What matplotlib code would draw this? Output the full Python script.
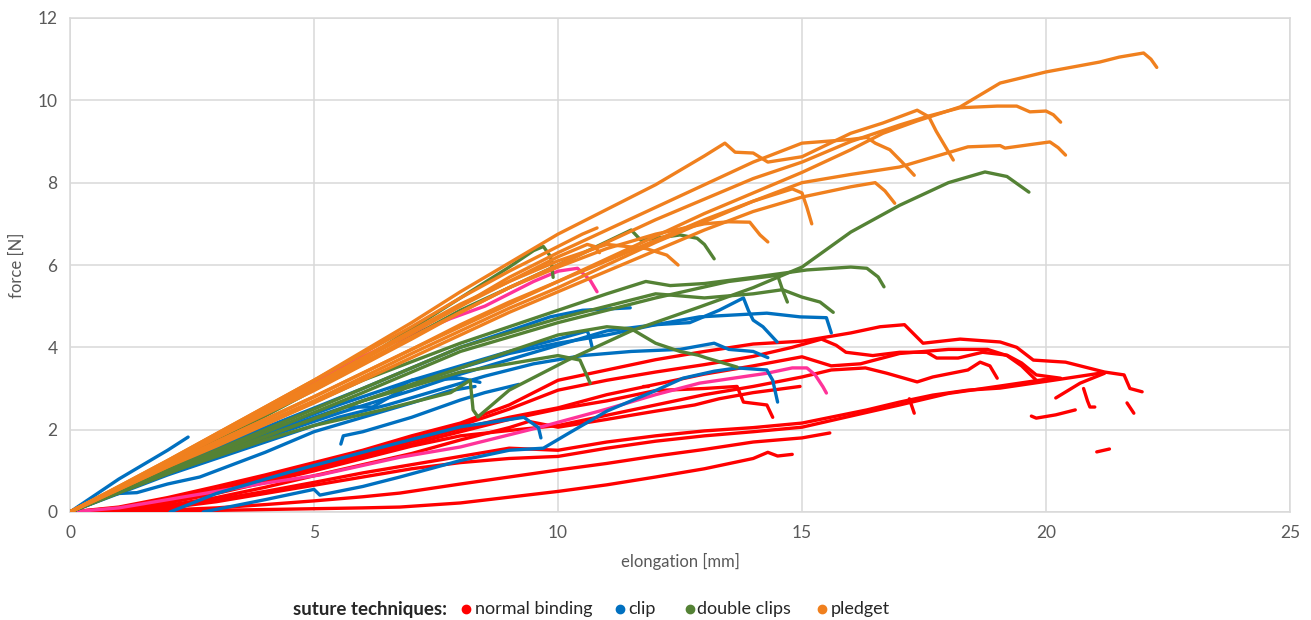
import matplotlib
matplotlib.use("Agg")
import matplotlib.pyplot as plt
from matplotlib.lines import Line2D

plt.rcParams['font.family'] = ['Lato', 'DejaVu Sans']

# Force-elongation traces (elongation in mm, force in N), one list of points per specimen
normal_binding = [
    [(0, 0), (1, 0.12), (2, 0.35), (3, 0.62), (4, 0.9), (5, 1.2), (6, 1.5), (7, 1.85), (8, 2.16), (9, 2.6),
     (10, 3.2), (11, 3.45), (12, 3.7), (13, 3.9), (14, 4.08), (15, 4.15), (16, 4.35), (16.6, 4.5), (17.1, 4.55),
     (17.48, 4.1), (18.24, 4.2), (19.06, 4.13), (19.4, 4.0), (19.74, 3.69), (20.4, 3.64), (20.8, 3.52),
     (21.2, 3.4), (21.6, 3.33), (21.72, 3.0), (21.97, 2.92)],
    [(0, 0), (1, 0.1), (2, 0.3), (3, 0.55), (4, 0.85), (5, 1.15), (6, 1.45), (7, 1.78), (8, 2.1), (9, 2.5),
     (10, 2.96), (11, 3.2), (12, 3.4), (13, 3.58), (14, 3.78), (14.8, 4.0), (15.4, 4.2), (15.7, 4.05),
     (15.9, 3.88), (16.45, 3.8), (17, 3.88), (17.56, 3.88), (17.76, 3.74), (18.2, 3.74), (18.7, 3.88),
     (19.2, 3.81), (19.5, 3.62), (19.8, 3.33), (20.3, 3.25)],
    [(0, 0), (1, 0.08), (2, 0.28), (3, 0.52), (4, 0.8), (5, 1.1), (6, 1.4), (7, 1.72), (8, 2.02), (9, 2.3),
     (10, 2.53), (11, 2.85), (12, 3.1), (13, 3.35), (14, 3.55), (15, 3.77), (15.6, 3.55), (16.2, 3.6),
     (17, 3.85), (18, 3.95), (18.8, 3.95), (19.2, 3.8), (19.5, 3.55), (19.8, 3.2)],
    [(0, 0), (1, 0.07), (2, 0.22), (3, 0.45), (4, 0.72), (5, 1.0), (6, 1.3), (7, 1.6), (8, 1.85), (9, 1.98),
     (10, 2.1), (11, 2.35), (12, 2.6), (13, 2.85), (14, 3.05), (15, 3.28), (15.6, 3.45), (16.3, 3.5),
     (16.74, 3.37), (17.36, 3.16), (17.68, 3.28), (18.4, 3.45), (18.65, 3.64), (18.85, 3.55), (18.95, 3.35),
     (19.0, 3.25)],
    [(0, 0), (1, 0.08), (2, 0.25), (3, 0.5), (4, 0.78), (5, 1.05), (6, 1.35), (7, 1.65), (8, 1.95), (9, 2.25),
     (10, 2.5), (11, 2.7), (12, 2.95), (13, 3.0), (13.67, 3.05), (13.8, 2.67), (14.28, 2.6), (14.4, 2.3)],
    [(0, 0), (1, 0.04), (2, 0.14), (3, 0.3), (4, 0.5), (5, 0.72), (6, 0.95), (7, 1.15), (8, 1.35), (9, 1.55),
     (10, 1.5), (11, 1.7), (12, 1.85), (13, 1.97), (14, 2.05), (15, 2.16), (16.33, 2.48), (17, 2.67),
     (17.68, 2.84), (18.4, 2.96), (19.06, 3.01), (20.15, 3.2), (21.1, 3.37)],
    [(0, 0), (1, 0.03), (2, 0.1), (3, 0.25), (4, 0.45), (5, 0.65), (6, 0.85), (7, 1.05), (8, 1.2), (9, 1.3),
     (10, 1.35), (11, 1.55), (12, 1.72), (13, 1.85), (14, 1.95), (15, 2.06), (16.33, 2.42), (17, 2.6),
     (18, 2.88), (19, 3.05), (20.2, 3.26)],
    [(0, 0), (1, 0.02), (2, 0.05), (3, 0.1), (4, 0.18), (5, 0.27), (6, 0.37), (6.76, 0.46), (8, 0.68),
     (9, 0.85), (10, 1.02), (11, 1.18), (12, 1.36), (13, 1.52), (14, 1.7), (15, 1.8), (15.57, 1.92)],
    [(0, 0), (2, 0.02), (3, 0.04), (4, 0.06), (5, 0.08), (6, 0.1), (6.76, 0.12), (8, 0.22), (9, 0.36),
     (10, 0.5), (11, 0.66), (12, 0.85), (13, 1.05), (14, 1.3), (14.3, 1.45), (14.5, 1.36), (14.8, 1.4)],
    [(0, 0), (1, 0.05), (2, 0.16), (3, 0.35), (4, 0.6), (5, 0.88), (6, 1.15), (7, 1.42), (8, 1.75),
     (9, 2.05), (9.4, 2.2), (10, 2.06), (11, 2.25), (12, 2.45), (12.8, 2.6), (13.3, 2.75), (14, 2.9),
     (14.96, 3.05)],
    [(19.7, 2.33), (19.8, 2.28), (20.2, 2.36), (20.6, 2.48)],
    [(21.04, 1.46), (21.3, 1.53)],
    [(20.77, 3.0), (20.85, 2.7), (20.9, 2.55), (21.0, 2.55)],
    [(21.66, 2.65), (21.8, 2.4)],
    [(20.2, 2.77), (20.7, 3.13), (21.2, 3.37)],
    [(17.2, 2.75), (17.3, 2.4)],
    [(11.75, 3.07), (11.85, 3.07)],
]

clip = [
    [(0, 0), (0.5, 0.4), (1, 0.8), (1.5, 1.15), (2, 1.5), (2.42, 1.82)],
    [(2.05, 0), (3, 0.45), (4.5, 0.97), (6.15, 1.5), (8, 2.07), (9.3, 2.3), (9.6, 2.05), (9.65, 1.8)],
    [(2.73, 0), (4, 0.3), (5, 0.55), (5.12, 0.41), (6, 0.62), (6.76, 0.85), (8, 1.25), (9, 1.5),
     (9.7, 1.55), (10.2, 1.9), (11, 2.45), (12, 2.95), (12.56, 3.25), (13.2, 3.42), (13.67, 3.5),
     (14.28, 3.45), (14.4, 3.2), (14.5, 2.67)],
    [(0, 0), (0.5, 0.3), (1, 0.45), (1.37, 0.47), (2, 0.68), (2.66, 0.85), (4, 1.45), (5, 1.95), (6, 2.3),
     (7, 2.65), (7.8, 2.95), (8.3, 3.05)],
    [(0, 0), (2, 1.0), (4, 1.9), (5.5, 2.5), (6.5, 2.9), (7, 3.2), (7.5, 3.3), (8, 3.5), (9, 3.85),
     (10, 4.1), (11, 4.3), (12, 4.55), (12.9, 4.74), (14.28, 4.83), (14.96, 4.74), (15.5, 4.72), (15.6, 4.35)],
    [(0, 0), (2, 0.95), (4, 1.8), (5.5, 2.4), (7, 2.95), (8, 3.35), (9, 3.7), (10, 4.05), (11, 4.4),
     (12, 4.55), (12.7, 4.6), (13.3, 4.9), (13.8, 5.2), (13.9, 4.9), (14.0, 4.66), (14.2, 4.5), (14.49, 4.13)],
    [(0, 0), (2, 1.05), (4, 2.05), (6, 3.0), (7, 3.5), (8, 4.0), (9, 4.4), (9.84, 4.74), (10.5, 4.9),
     (11.48, 4.96)],
    [(0, 0), (2, 1.0), (4, 1.95), (5.5, 2.6), (7, 3.2), (8, 3.55), (9, 3.9), (10, 4.2), (10.6, 4.4),
     (10.66, 4.2), (10.7, 4.0)],
    [(0, 0), (2, 0.9), (4, 1.7), (5.5, 2.3), (6.5, 2.6), (7.5, 2.95), (8.5, 3.3), (9.5, 3.6), (10.5, 3.8),
     (11.5, 3.9), (12.5, 3.95), (13.2, 4.1), (13.5, 3.95), (14.0, 3.9), (14.3, 3.75)],
    [(5.55, 1.65), (5.6, 1.85), (6, 1.95), (7, 2.3), (8, 2.72), (8.5, 2.9), (9.2, 3.1)],
    [(5.7, 2.55), (6.2, 2.55), (7.0, 3.1), (7.3, 3.2), (8.0, 3.25), (8.4, 3.15)],
]

double_clips = [
    [(0, 0), (1, 0.5), (2, 0.95), (3, 1.35), (4, 1.75), (5, 2.1), (6.4, 2.48), (7.8, 2.9), (8.2, 3.2),
     (8.26, 2.48), (8.36, 2.31), (9, 2.96), (10.2, 3.69), (11.5, 4.4), (12.9, 4.98), (14, 5.45), (15, 5.95),
     (16, 6.8), (17, 7.45), (18, 8.0), (18.75, 8.26), (19.2, 8.15), (19.65, 7.77)],
    [(0, 0), (2, 1.1), (4, 2.35), (6, 3.7), (8, 5.2), (9, 5.95), (9.5, 6.35), (9.7, 6.45), (9.85, 6.2),
     (9.9, 5.7)],
    [(0, 0), (3, 1.7), (6, 3.6), (8, 4.9), (10, 6.0), (11.5, 6.85), (11.7, 6.6), (12.5, 6.73),
     (12.85, 6.65), (13.0, 6.5), (13.2, 6.15)],
    [(0, 0), (3, 1.6), (6, 3.2), (8, 4.1), (10, 4.9), (11, 5.3), (11.8, 5.6), (12.3, 5.5), (13, 5.55),
     (14, 5.7), (15.1, 5.88), (16, 5.95), (16.33, 5.92), (16.56, 5.71), (16.68, 5.47)],
    [(0, 0), (3, 1.5), (6, 3.0), (8, 4.0), (10, 4.7), (11, 5.0), (12, 5.3), (13, 5.2), (14, 5.3),
     (14.6, 5.4), (15.0, 5.22), (15.37, 5.1), (15.64, 4.85)],
    [(0, 0), (3, 1.4), (6, 2.7), (8, 3.5), (9, 3.9), (10, 4.3), (11, 4.5), (11.5, 4.45), (12, 4.1),
     (12.5, 3.9), (12.87, 3.81), (13.05, 3.74), (13.67, 3.52)],
    [(0, 0), (3, 1.4), (6, 2.7), (8, 3.4), (9, 3.6), (10, 3.8), (10.45, 3.69), (10.66, 3.13)],
    [(0, 0), (3, 1.45), (6, 2.9), (8, 3.9), (10, 4.6), (12, 5.2), (13.5, 5.6), (14.5, 5.75), (14.6, 5.4),
     (14.7, 5.1)],
]

pledget = [
    [(0, 0), (1, 0.6), (2, 1.15), (3, 1.7), (5, 2.8), (7, 3.95), (8, 4.5), (9, 5.05), (10, 5.6), (11, 6.15),
     (12, 6.7), (13, 7.25), (14, 7.75), (15, 8.25), (16, 8.8), (16.66, 9.2), (17.36, 9.5), (18.24, 9.84),
     (19.06, 10.42), (20, 10.69), (21.1, 10.93), (21.5, 11.05), (22.0, 11.15), (22.15, 11.0), (22.27, 10.8)],
    [(0, 0), (1, 0.62), (2, 1.25), (3, 1.9), (4, 2.55), (5, 3.2), (6, 3.9), (7, 4.6), (8, 5.35), (9, 6.05),
     (10, 6.75), (11, 7.35), (12, 7.95), (13, 8.65), (13.42, 8.96), (13.63, 8.74), (14.0, 8.72), (14.3, 8.5),
     (15, 8.63), (16, 9.2), (16.66, 9.45), (17.36, 9.76), (17.6, 9.6), (17.75, 9.25), (17.95, 8.85),
     (18.1, 8.55)],
    [(0, 0), (1, 0.58), (2, 1.2), (3, 1.8), (5, 2.95), (7, 4.2), (8, 4.85), (9, 5.45), (10, 6.0),
     (11, 6.55), (12, 7.1), (13, 7.6), (14, 8.1), (15, 8.5), (16, 9.0), (17, 9.4), (17.6, 9.62),
     (18.24, 9.82), (19, 9.86), (19.4, 9.86), (19.67, 9.72), (20, 9.74), (20.15, 9.65), (20.3, 9.47)],
    [(0, 0), (1, 0.55), (2, 1.1), (3, 1.65), (5, 2.7), (7, 3.85), (8, 4.4), (9, 4.95), (10, 5.45),
     (11, 6.0), (12, 6.55), (13, 7.05), (14, 7.55), (15, 8.0), (16, 8.2), (17, 8.38), (18.4, 8.87),
     (19.06, 8.9), (19.16, 8.84), (20.08, 8.99), (20.25, 8.85), (20.4, 8.67)],
    [(0, 0), (1, 0.6), (2, 1.2), (3, 1.85), (5, 3.05), (7, 4.35), (8, 5.0), (9, 5.7), (10, 6.3),
     (11, 6.85), (12, 7.4), (13, 7.95), (14, 8.5), (15, 8.96), (16, 9.05), (16.33, 9.1), (16.5, 8.96),
     (16.8, 8.8), (17.05, 8.5), (17.3, 8.18)],
    [(0, 0), (1, 0.55), (2, 1.1), (3, 1.6), (5, 2.65), (7, 3.75), (8, 4.3), (9, 4.85), (10, 5.35),
     (11, 5.85), (12, 6.35), (13, 6.85), (14, 7.3), (15, 7.65), (16, 7.9), (16.5, 8.0), (16.7, 7.8),
     (16.9, 7.5)],
    [(0, 0), (1, 0.57), (2, 1.13), (3, 1.7), (5, 2.8), (7, 3.95), (8, 4.55), (9, 5.1), (10, 5.6),
     (11, 6.1), (12, 6.6), (13, 7.1), (14, 7.55), (14.8, 7.85), (15.0, 7.75), (15.1, 7.4), (15.2, 7.0)],
    [(0, 0), (1, 0.6), (2, 1.2), (3, 1.8), (5, 3.0), (7, 4.25), (8, 4.85), (9, 5.45), (10, 5.95),
     (11, 6.4), (12, 6.75), (13, 7.0), (13.5, 7.05), (13.93, 7.04), (14.14, 6.73), (14.3, 6.56)],
    [(0, 0), (1, 0.6), (2, 1.2), (3, 1.85), (5, 3.1), (7, 4.4), (8, 5.05), (9, 5.6), (10, 6.1),
     (11, 6.5), (11.8, 6.4), (12.23, 6.24), (12.46, 6.0)],
    [(0, 0), (1, 0.62), (2, 1.25), (3, 1.9), (5, 3.2), (7, 4.5), (8, 5.2), (9, 5.85), (10, 6.45),
     (10.5, 6.75), (10.8, 6.9)],
    [(0, 0), (1, 0.6), (2, 1.2), (3, 1.85), (5, 3.1), (7, 4.35), (8, 5.0), (9, 5.6), (10, 6.2),
     (10.6, 6.5), (10.75, 6.45), (10.85, 6.3)],
]

# Two further traces drawn in magenta
magenta_traces = [
    [(0, 0), (1, 0.55), (2, 1.15), (3, 1.8), (4.5, 2.85), (5.5, 3.5), (6.5, 4.05), (7.8, 4.7), (8.5, 5.0),
     (9.5, 5.6), (10.0, 5.85), (10.4, 5.92), (10.66, 5.63), (10.8, 5.35)],
    [(0, 0), (1, 0.1), (2, 0.3), (3, 0.5), (4, 0.7), (5.12, 0.9), (6.76, 1.33), (8, 1.58), (9.63, 2.06),
     (11, 2.5), (12, 2.85), (12.9, 3.13), (14.28, 3.37), (14.8, 3.5), (15.1, 3.5), (15.27, 3.33),
     (15.43, 3.04), (15.5, 2.89)],
]

x_ticks = [0, 5, 10, 15, 20, 25]
y_ticks = [0, 2, 4, 6, 8, 10, 12]

technique_labels = ["normal binding", "clip", "double clips", "pledget"]
colors = {"normal binding": "#FF0000", "clip": "#0070C0", "double clips": "#548235",
          "pledget": "#F0801E", "magenta": "#FF3399"}

fig = plt.figure(figsize=(13.11, 6.2), dpi=100)
ax = fig.add_axes([70 / 1311, 1 - 512 / 620, 1220 / 1311, 494 / 620])


def draw(traces, color):
    for tr in traces:
        xs = [p[0] for p in tr]
        ys = [p[1] for p in tr]
        ax.plot(xs, ys, color=color, lw=2.4, solid_capstyle='round',
                solid_joinstyle='round', zorder=3)


draw(normal_binding, colors["normal binding"])
draw(magenta_traces, colors["magenta"])
draw(clip, colors["clip"])
draw(double_clips, colors["double clips"])
draw(pledget, colors["pledget"])

ax.set_xlim(0, 25)
ax.set_ylim(0, 12)
ax.set_xticks(x_ticks)
ax.set_yticks(y_ticks)
ax.grid(True, color="#D9D9D9", lw=1.1, zorder=0)
ax.set_axisbelow(True)
for s in ax.spines.values():
    s.set_color("#D9D9D9")
    s.set_linewidth(1.1)
ax.tick_params(length=0, labelsize=12.5, labelcolor="#595959", pad=9)
ax.set_xlabel("elongation [mm]", fontsize=12, color="#595959", labelpad=9)
ax.set_ylabel("force [N]", fontsize=12, color="#595959", labelpad=9)

# Legend row along the bottom edge
legend_y = 1 - 609 / 620
fig.text(293 / 1311, legend_y, "suture techniques:", fontsize=13.5, color="#262626",
         fontweight="bold", va="center", ha="left")
dot_px = [466, 620, 690, 822]
text_px = [475, 628, 697, 831]
for label, dx, tx in zip(technique_labels, dot_px, text_px):
    fig.add_artist(Line2D([dx / 1311], [legend_y], ls="none", marker="o", ms=6,
                          color=colors[label], transform=fig.transFigure))
    fig.text(tx / 1311, legend_y, label, fontsize=13, color="#262626", va="center", ha="left")

fig.savefig("out.png", dpi=100)
